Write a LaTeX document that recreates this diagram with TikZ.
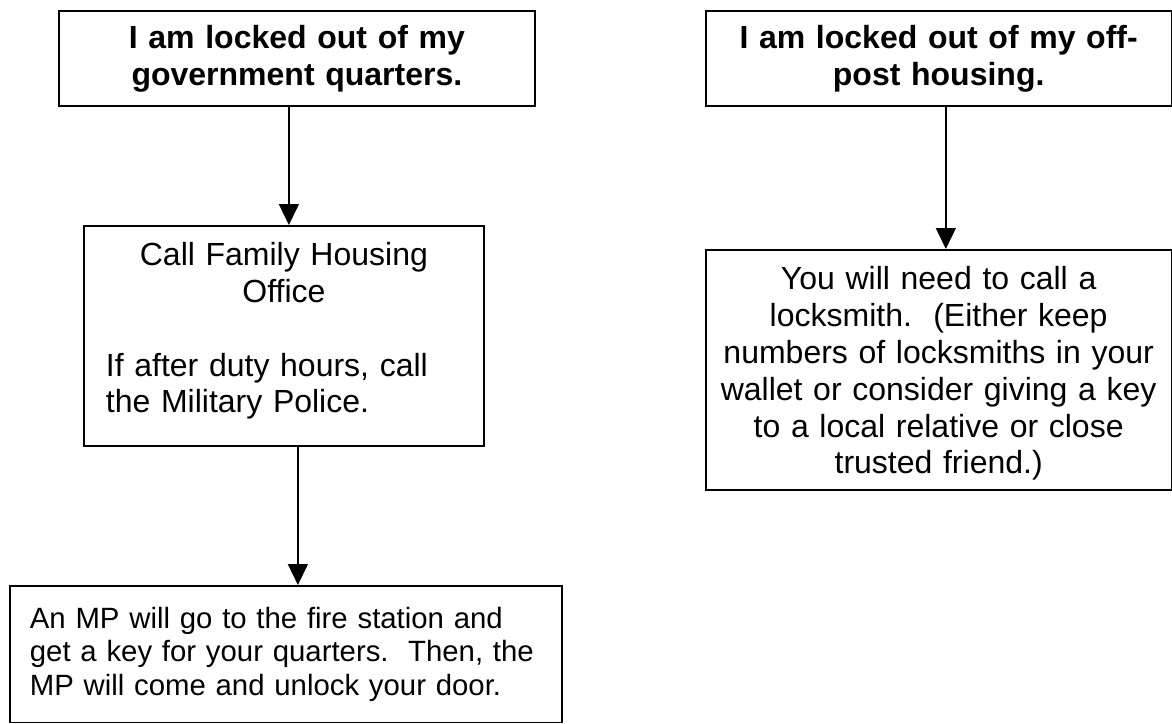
\documentclass[tikz,border=0pt]{standalone}
\usepackage{fontspec}
\setmainfont{Liberation Sans}
\usepackage{tikz}
\usetikzlibrary{arrows.meta}

\begin{document}
\begin{tikzpicture}[x=0.5pt, y=-0.5pt,
  panel/.style={draw, line width=0.9pt, inner sep=0pt, anchor=north west,
    font=\fontsize{16}{18.4}\selectfont},
  headpanel/.style={panel, align=center, font=\fontsize{16}{18.4}\selectfont\bfseries},
  flowarrow/.style={line width=0.7pt, -{Triangle[width=10pt,length=10.5pt]}}]
\useasboundingbox (0,0) rectangle (1172,723) ;
\clip (0,0) rectangle (1172,723) ;
\node[headpanel, minimum width=238pt, minimum height=47.5pt, text width=230pt] (govq) at (58,10) {I am locked out of my\\government quarters.} ;
\node[panel, minimum width=200pt, minimum height=110pt, text width=178pt] (fho) at (83,225) {{\centering Call Family Housing\\Office\par}\vspace{18.4pt}\raggedright If after duty hours, call\\the Military Police.\rule[-8.2pt]{0pt}{8.2pt}} ;
\node[panel, minimum width=276pt, minimum height=68.25pt, text width=256pt, font=\fontsize{14.67}{16.87}\selectfont] (mp) at (9,585) {\raggedright An MP will go to the fire station and\\get a key for your quarters.\ \ Then, the\\MP will come and unlock your door.} ;
\node[headpanel, minimum width=232.75pt, minimum height=47.5pt, text width=225pt] (offp) at (705,10) {I am locked out of my off-\\post housing.} ;
\node[panel, minimum width=232.75pt, minimum height=120pt, text width=225pt, align=center] (smith) at (705,249) {\rule{0pt}{15.3pt}You will need to call a\\locksmith.\ \ (Either keep\\numbers of locksmiths in your\\wallet or consider giving a key\\to a local relative or close\\trusted friend.)} ;
\draw[flowarrow] ([xshift=-4pt]govq.south) -- ([xshift=-4pt]govq.south |- fho.north) ;
\draw[flowarrow] ([xshift=7pt]fho.south) -- ([xshift=7pt]fho.south |- mp.north) ;
\draw[flowarrow] ([xshift=3.6pt]offp.south) -- ([xshift=3.6pt]offp.south |- smith.north) ;
\end{tikzpicture}
\end{document}
